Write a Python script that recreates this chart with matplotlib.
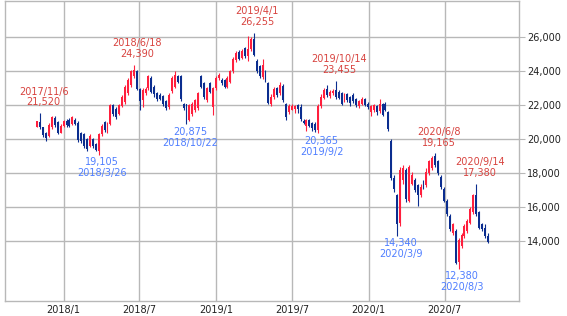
import matplotlib
matplotlib.use('Agg')
import matplotlib.pyplot as plt
import matplotlib.dates as mdates
import pandas as pd

# weekly candles, first week 2017/10/30
opens = [20750, 21000, 20700, 20400, 20200, 20700, 21250, 21000, 20400,
         20800, 21100, 21150, 20900, 21150, 20950, 20400, 20300, 20000, 19600,
         20000, 19700, 19300, 20300, 21000, 20400, 20900, 22000, 21800, 21500,
         21950, 22200, 22700, 23200, 23700, 24000, 22950, 22300, 22700, 23000,
         23600, 23100, 22700, 22600, 22550, 22250, 21900, 22850, 23100, 23700,
         23700, 22050, 22050, 21150, 21500, 21700, 21850, 23700, 23300, 22300,
         23300, 21900, 23000, 23600, 23500, 23500, 23100, 23400, 24000, 24650,
         25150, 24800, 25350, 24900, 25300, 25900, 24600, 24300, 23650, 24000,
         23300, 22050, 22500, 23000, 22700, 23150, 22100, 21600, 21750, 21800,
         22000, 21900, 21100, 20800, 21150, 20950, 20900, 20550, 21950, 22450,
         22950, 22550, 22700, 22900, 22800, 22700, 22300, 22650, 22500, 22600,
         22350, 21950, 22100, 22350, 22100, 21600, 21700, 21950, 21650, 22100,
         22100, 21600, 19900, 17700, 16700, 15100, 17600, 18200, 16400, 17400,
         17600, 17300, 16700, 17500, 17300, 18000, 18300, 19000, 18700, 17800,
         17100, 16400, 15500, 14500, 14600, 12800, 13700, 14300, 14600, 15100,
         15700, 16700, 15700, 15000, 14800, 14300]
highs = [21100, 21520, 20750, 20450, 20950, 21400, 21350, 21100, 20900,
         21150, 21200, 21250, 21400, 21250, 21050, 20450, 20400, 20100, 20300,
         20100, 19800, 20400, 20900, 21100, 21000, 22100, 22100, 21900, 22100,
         22600, 23200, 23600, 24100, 24390, 24050, 23000, 23000, 23050, 23800,
         23700, 23200, 22800, 22700, 22600, 22300, 22700, 23700, 24000, 23800,
         23800, 22150, 22100, 22100, 22200, 22400, 22800, 23800, 23400, 23100,
         23400, 23100, 23700, 23900, 23600, 23550, 23700, 24100, 24850, 25200,
         25250, 25300, 25450, 26100, 26000, 26255, 24700, 24400, 24700, 24100,
         23400, 22650, 23100, 23100, 23350, 23250, 22150, 22050, 22050, 22000,
         22100, 22050, 21200, 21200, 21200, 21000, 21000, 22050, 22650, 23000,
         23200, 22900, 22950, 23455, 22900, 22800, 22700, 22700, 22550, 22700,
         22450, 22300, 22500, 22450, 22200, 22000, 22100, 22000, 22350, 22150,
         22200, 21650, 20000, 17900, 16800, 18400, 18500, 18300, 18500, 18100,
         17700, 17400, 17400, 17600, 18300, 18800, 19000, 19165, 18800, 17900,
         17200, 16500, 15600, 15100, 14700, 14200, 14500, 15000, 15300, 16000,
         16800, 17380, 15800, 15100, 15000, 14500]
lows = [20700, 20600, 20150, 19900, 20150, 20600, 20750, 20300, 20350,
        20750, 20750, 20750, 20850, 20850, 19850, 19800, 19500, 19300, 19550,
        19500, 19300, 19105, 20200, 20450, 20350, 20850, 21400, 21200, 21450,
        21900, 22100, 22600, 23100, 23600, 22900, 21750, 21900, 22600, 22900,
        22700, 22500, 22250, 22300, 21950, 21750, 21800, 22750, 23000, 23300,
        22250, 21750, 20875, 21050, 21400, 21600, 21750, 23000, 22400, 22200,
        22700, 21450, 22900, 23500, 23200, 23000, 23000, 23300, 23900, 24550,
        24650, 24700, 24800, 24600, 25200, 24900, 23900, 23600, 23550, 23350,
        22050, 21950, 22400, 22500, 22600, 22200, 21150, 21500, 21700, 21550,
        21550, 21100, 20900, 20500, 20700, 20500, 20450, 20365, 21850, 22350,
        22500, 22450, 22600, 22400, 22350, 22000, 22200, 22200, 21950, 22150,
        21900, 21850, 22000, 21950, 21800, 21350, 21600, 21450, 21550, 21400,
        21650, 20500, 17600, 16900, 14340, 14900, 17400, 16300, 16300, 17300,
        16900, 16100, 16600, 17100, 17200, 17900, 18200, 18400, 17900, 17100,
        16300, 15500, 14600, 14400, 12650, 12380, 13600, 14200, 14500, 15000,
        15600, 15500, 14700, 14600, 14200, 13900]
closes = [21050, 20750, 20250, 20050, 20850, 21300, 20850, 20400, 20800,
          21050, 20850, 20800, 21300, 20900, 19950, 19900, 19600, 19450, 20200,
          19600, 19400, 20300, 20800, 20550, 20900, 22000, 21500, 21300, 22000,
          22500, 23100, 23500, 24000, 24050, 22950, 22250, 22900, 22950, 23700,
          22800, 22650, 22350, 22400, 22050, 21850, 22600, 23600, 23800, 23400,
          22350, 21850, 21150, 22000, 22100, 22300, 22700, 23100, 22500, 23000,
          22800, 23000, 23600, 23800, 23300, 23100, 23600, 24000, 24750, 25100,
          24750, 25200, 24900, 25300, 25900, 24950, 24000, 23700, 24400, 23450,
          22150, 22500, 22950, 22600, 23200, 22300, 21300, 21950, 21950, 21950,
          21800, 21200, 20950, 21150, 20800, 20650, 20550, 21950, 22500, 22900,
          22600, 22800, 22850, 22500, 22450, 22100, 22600, 22300, 22150, 22250,
          22000, 22250, 22400, 22000, 21900, 21950, 22000, 21600, 22100, 21450,
          21750, 20600, 17700, 17100, 15000, 18200, 18300, 16500, 18400, 17900,
          17000, 16700, 17200, 17200, 18100, 18700, 18900, 18500, 18000, 17200,
          16400, 15600, 14700, 15000, 12750, 14100, 14400, 14900, 15200, 15900,
          16700, 15600, 14800, 14700, 14300, 13950]

high_dates = ['2017-11-06', '2018-06-18', '2019-04-01', '2019-10-14', '2020-06-08', '2020-09-14']
high_vals = [21520, 24390, 26255, 23455, 19165, 17380]
low_dates = ['2018-03-26', '2018-10-22', '2019-09-02', '2020-03-09', '2020-08-03']
low_vals = [19105, 20875, 20365, 14340, 12380]

xtick_dates = ['2018-01-01', '2018-07-01', '2019-01-01', '2019-07-01', '2020-01-01', '2020-07-01']
xtick_labels = ['2018/1', '2018/7', '2019/1', '2019/7', '2020/1', '2020/7']
ytick_vals = [14000, 16000, 18000, 20000, 22000, 24000, 26000]

UP = '#ff1f3d'
DOWN = '#0b2d8f'
HIGH_TXT = '#d8433f'
LOW_TXT = '#4f7eff'
GRID = '#b8b8b8'

weeks = pd.date_range('2017-10-30', periods=len(closes), freq='W-MON')

fig = plt.figure(figsize=(5.67, 3.16), dpi=100)
ax = fig.add_axes([5 / 567, 15.3 / 316, 514 / 567, 300 / 316])

colors = [UP if c >= o else DOWN for o, c in zip(opens, closes)]
bottoms = [min(o, c) for o, c in zip(opens, closes)]
heights = [max(abs(c - o), 40) for o, c in zip(opens, closes)]

ax.vlines(weeks, lows, highs, colors=colors, lw=0.8, zorder=3)
ax.bar(weeks, heights, bottom=bottoms, width=4.6, color=colors, lw=0, zorder=4)

# labels for highs and lows
for d, v in zip(high_dates, high_vals):
    t = pd.Timestamp(d)
    x = mdates.date2num(t)
    ax.annotate(f'{v:,}', (x, v), xytext=(2.5, 7.9), textcoords='offset points',
                ha='center', va='center', fontsize=7, color=HIGH_TXT)
    ax.annotate(f'{t.year}/{t.month}/{t.day}', (x, v), xytext=(2.5, 15.8),
                textcoords='offset points', ha='center', va='center', fontsize=7, color=HIGH_TXT)
for d, v in zip(low_dates, low_vals):
    t = pd.Timestamp(d)
    x = mdates.date2num(t)
    ax.annotate(f'{v:,}', (x, v), xytext=(2.5, -5.4), textcoords='offset points',
                ha='center', va='center', fontsize=7, color=LOW_TXT)
    ax.annotate(f'{t.year}/{t.month}/{t.day}', (x, v), xytext=(2.5, -13.3),
                textcoords='offset points', ha='center', va='center', fontsize=7, color=LOW_TXT)

x0 = mdates.date2num(pd.Timestamp('2018-01-01'))
ax.set_xlim(x0 - 140.2, x0 + 1089.5)
ax.set_ylim(10506, 28153)

ax.set_xticks([mdates.date2num(pd.Timestamp(d)) for d in xtick_dates])
ax.set_xticklabels(xtick_labels)
ax.yaxis.tick_right()
ax.set_yticks(ytick_vals)
ax.set_yticklabels([f'{v:,}' for v in ytick_vals])
ax.tick_params(axis='x', length=0, pad=3, labelsize=7, colors='#222222')
ax.tick_params(axis='y', length=4.3, width=0.8, pad=1.5, labelsize=7, color=GRID, labelcolor='#222222')

ax.grid(True, color=GRID, lw=1.0)
ax.set_axisbelow(True)
for s in ax.spines.values():
    s.set_color(GRID)
    s.set_linewidth(1.0)

fig.savefig('out.png', dpi=100)
